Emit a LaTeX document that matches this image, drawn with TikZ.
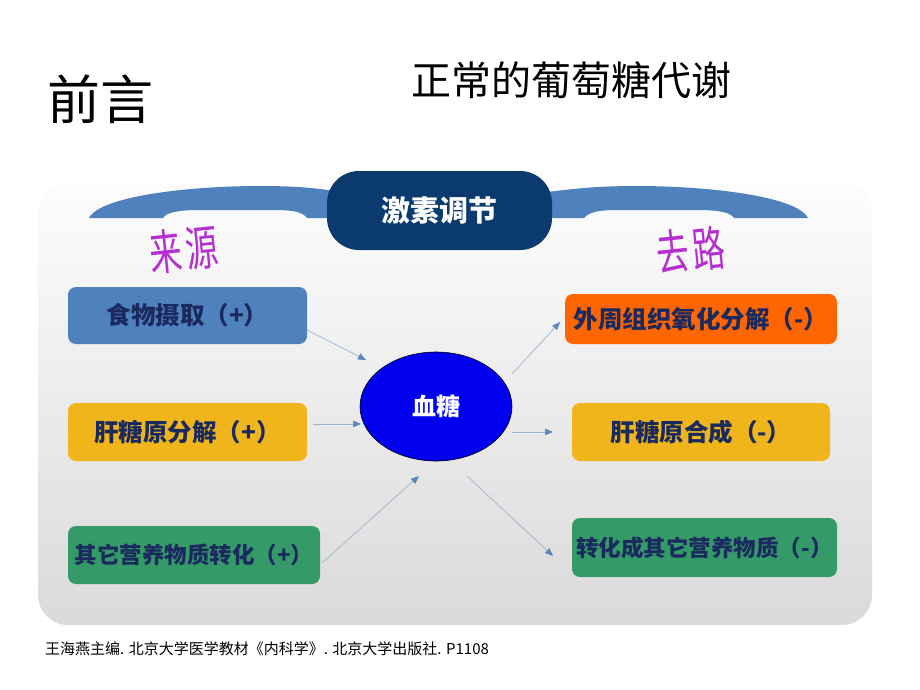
\documentclass[tikz,border=0pt]{standalone}
\usepackage{fontspec}
\newfontfamily\cjk{Noto Sans CJK SC}
\usetikzlibrary{shapes.geometric,arrows.meta}
\definecolor{archblue}{HTML}{4F81BD}
\definecolor{pillnavy}{HTML}{0B3A6E}
\definecolor{boxyellow}{HTML}{EFB51B}
\definecolor{boxgreen}{HTML}{349A68}
\definecolor{boxorange}{HTML}{FF6600}
\definecolor{txtnavy}{HTML}{1B2A5E}
\definecolor{panelbot}{HTML}{DADADA}
\definecolor{paneltop}{HTML}{FDFDFD}
\definecolor{arrline}{HTML}{9DB2CF}
\definecolor{arrhead}{HTML}{5B85BD}
\definecolor{waMain}{HTML}{B52ED0}
\definecolor{bloodblue}{HTML}{0000EE}
\begin{document}
\begin{tikzpicture}[x=1pt,y=-1pt,
  boxbase/.style={rounded corners=8pt, inner sep=0pt, text=txtnavy},
  bigtxt/.style={font=\cjk\bfseries\fontsize{24.5}{28}\selectfont},
  smalltxt/.style={font=\cjk\bfseries\fontsize{22.5}{26}\selectfont},
  flow/.style={draw=arrline, line width=0.7pt,
    -{Triangle[length=8pt,width=6.5pt,color=arrhead]}},
  wordart/.style={font=\cjk\fontsize{37}{40}\selectfont, text=waMain, rotate=6, xscale=0.88, yscale=1.3, inner sep=0pt}]
\useasboundingbox (0,0) rectangle (920,690);
\fill[white] (0,0) rectangle (920,690);
% background panel
\shade[rounded corners=30pt, top color=paneltop, bottom color=panelbot]
  (38,183) rectangle (872,625);
% headings
\node[font=\cjk\fontsize{53}{58}\selectfont, inner sep=0pt] (qianyan) at (100,99) {前言};
\node[font=\cjk\fontsize{40}{45}\selectfont, inner sep=0pt] (title) at (571,80) {正常的葡萄糖代谢};
% arches
\fill[archblue] (89,218) .. controls (100,196) and (190,186) .. (260,186)
  .. controls (295,186) and (320,188) .. (345,193) -- (345,218) -- (307,218)
  .. controls (302,211) and (290,210) .. (272,210) -- (200,210)
  .. controls (176,210) and (166,213) .. (163,218) -- cycle;
\fill[archblue] (808,218) .. controls (797,196) and (707,186) .. (637,186)
  .. controls (602,186) and (577,188) .. (540,193) -- (540,218) -- (584,218)
  .. controls (590,211) and (602,210) .. (620,210) -- (697,210)
  .. controls (721,210) and (731,213) .. (734,218) -- cycle;
% hormone regulation pill
\node[fill=pillnavy, rounded corners=32pt, minimum width=225pt, minimum height=79pt,
  text=white, font=\cjk\bfseries\fontsize{29}{33}\selectfont] (pill) at (439.5,210.5) {激素调节};
% word art labels
\node[wordart] (src) at (184,250) {来\hspace{4pt}源};
\node[wordart] (dst) at (691,250) {去\hspace{4pt}路};
% source boxes
\node[boxbase, bigtxt, fill=archblue, minimum width=239pt, minimum height=57pt] (food) at (187.5,315.5) {食物摄取（+）};
\node[boxbase, bigtxt, fill=boxyellow, minimum width=239pt, minimum height=58pt] (glycolysis) at (187.5,432) {肝糖原分解（+）};
\node[boxbase, smalltxt, fill=boxgreen, minimum width=252pt, minimum height=58pt] (convin) at (194,555) {其它营养物质转化（+）};
% blood glucose
\node[ellipse, fill=bloodblue, draw=black, line width=0.6pt, minimum width=152pt, minimum height=109pt,
  text=white, font=\cjk\bfseries\fontsize{24}{28}\selectfont] (glucose) at (436,406.5) {血糖};
% destination boxes
\node[boxbase, bigtxt, fill=boxorange, minimum width=272pt, minimum height=50pt] (oxid) at (701,319) {外周组织氧化分解（-）};
\node[boxbase, bigtxt, fill=boxyellow, minimum width=258pt, minimum height=58pt] (synth) at (701,432) {肝糖原合成（-）};
\node[boxbase, smalltxt, fill=boxgreen, minimum width=265pt, minimum height=59pt] (convout) at (704.5,547.5) {转化成其它营养物质（-）};
% arrow endpoints
\coordinate (a1s) at (307,330); \coordinate (a1e) at (366,360);
\coordinate (a2s) at (313,424); \coordinate (a2e) at (361,424);
\coordinate (a3s) at (322,563); \coordinate (a3e) at (419,476);
\coordinate (a4s) at (512,374); \coordinate (a4e) at (560,322);
\coordinate (a5s) at (512,432); \coordinate (a5e) at (553,432);
\coordinate (a6s) at (467,476); \coordinate (a6e) at (553,556);
\draw[flow] (a1s) -- (a1e);
\draw[flow] (a2s) -- (a2e);
\draw[flow] (a3s) -- (a3e);
\draw[flow] (a4s) -- (a4e);
\draw[flow] (a5s) -- (a5e);
\draw[flow] (a6s) -- (a6e);
% footer
\node[anchor=west, inner sep=0pt, font=\cjk\fontsize{15}{18}\selectfont] (footer) at (45,649)
  {王海燕主编. 北京大学医学教材《内科学》. 北京大学出版社. P1108};
\end{tikzpicture}
\end{document}
